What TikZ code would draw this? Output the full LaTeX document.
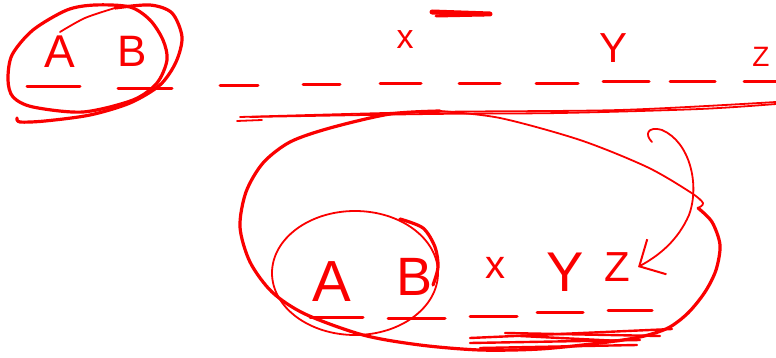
\documentclass[tikz,border=0pt]{standalone}
\usepackage{fontspec}
\setmainfont{Liberation Sans}
\usepackage{tikz}
\usetikzlibrary{arrows.meta, calc}
\definecolor{inkred}{RGB}{250, 0, 0}
\tikzset{
  pen/.style={draw=inkred, line width=1.8pt, line cap=round, line join=round},
  pen thick/.style={draw=inkred, line width=3.2pt, line cap=round, line join=round},
  blank/.style={draw=inkred, line width=3pt, line cap=round},
  letter/.style={text=inkred, inner sep=2pt},
}

\begin{document}
\begin{tikzpicture}[x=1pt, y=-1pt, >={Straight Barb[length=20pt, width=40pt, line width=2pt]}]
\useasboundingbox (0,0) rectangle (776,358);

% first line: A B _ _ x _ _ Y _ Z
\node[letter, font=\fontsize{46}{46}\selectfont] (topa) at (60,52) {A};
\node[letter, font=\fontsize{44}{44}\selectfont] (topb) at (132,51) {B};
\node[letter, font=\fontsize{34}{34}\selectfont] (topx) at (405,40) {x};
\node[letter, font=\fontsize{42}{42}\selectfont] (topy) at (613,48) {Y};
\node[letter, font=\fontsize{28}{28}\selectfont] (topz) at (761,57) {Z};

\foreach \xa/\xb/\yy in {27/80/87, 118/172/89, 220/258/86, 303/340/85, 380/421/84,
                         459/500/84, 536/578/84, 603/649/82, 670/715/82, 744/776/82}
  \draw[blank] (\xa,\yy) -- (\xb,\yy);

% rings round A B
\draw[pen thick] plot[smooth cycle] coordinates {(8,80) (13,97) (33,107) (83,112) (133,100)
  (157,83) (167,60) (163,40) (150,20) (130,7) (95,5) (67,10) (33,30) (12,55)};
\draw[pen] plot[smooth] coordinates {(60,32) (85,18) (115,8)};
\draw[pen thick] plot[smooth] coordinates {(115,8) (150,5) (172,13) (182,37) (176,62)
  (160,85) (130,103) (90,115) (45,121) (20,122) (17,118)};

% struck mark
\draw[draw=inkred, line width=5pt, line cap=round] (432,12) -- (490,14);
\draw[draw=inkred, line width=3pt, line cap=round] (436,16) -- (484,15);

% rule under the first line
\draw[pen] (237,121) -- (262,120);
\draw[pen] plot[smooth] coordinates {(240,117) (430,112) (620,110) (776,102)};
\draw[pen] plot[smooth] coordinates {(776,104) (700,109) (560,113) (430,114) (250,117)};

% second line: A B x Y Z
\node[letter, font=\fontsize{58}{58}\selectfont] (bota) at (332,282) {A};
\node[letter, font=\fontsize{54}{54}\selectfont] (botb) at (415,277) {B};
\node[letter, font=\fontsize{40}{40}\selectfont] (botx) at (495,268) {x};
\node[letter, font=\fontsize{56}{56}\selectfont] (boty) at (565,272) {Y};
\node[letter, font=\fontsize{42}{42}\selectfont, inner sep=8pt] (botz) at (617,267) {Z};

\foreach \xa/\xb/\yy in {310/363/317, 388/445/318, 470/517/316, 537/583/312, 608/652/310}
  \draw[blank] (\xa,\yy) -- (\xb,\yy);

% scribble under x Y Z
\foreach \xa/\ya/\xb/\yb in {470/338/672/329, 505/333/660/336, 470/343/640/340,
                             480/348/637/345, 520/336/620/341}
  \draw[draw=inkred, line width=2.4pt, line cap=round] (\xa,\ya) -- (\xb,\yb);

% ring round A B (second line)
\draw[pen] (355,273) ellipse [x radius=83pt, y radius=62pt];
\draw[pen thick] plot[smooth] coordinates {(400,219) (423,228) (435,247) (438,267) (433,285)};

% big loop
\draw[pen thick] plot[smooth] coordinates {(698,208) (712,222) (720,245) (716,270)
  (705,292) (688,313) (668,328) (640,337) (600,343) (540,349) (480,350) (420,345)
  (363,335) (305,314) (272,292) (250,262) (240,227) (246,192) (263,163) (290,142)
  (330,128) (390,114) (440,111)};
\draw[pen] plot[smooth] coordinates {(440,111) (500,118) (580,140) (647,167)
  (690,192) (703,203) (698,208)};

% arrow to Z
\coordinate (hook) at (652,142);
\draw[pen, ->] (hook) .. controls (644,134) and (648,126) .. (662,130)
  .. controls (690,142) and (700,185) .. (689,215)
  .. controls (678,240) and (660,255) .. (botz.east);

\end{tikzpicture}
\end{document}
